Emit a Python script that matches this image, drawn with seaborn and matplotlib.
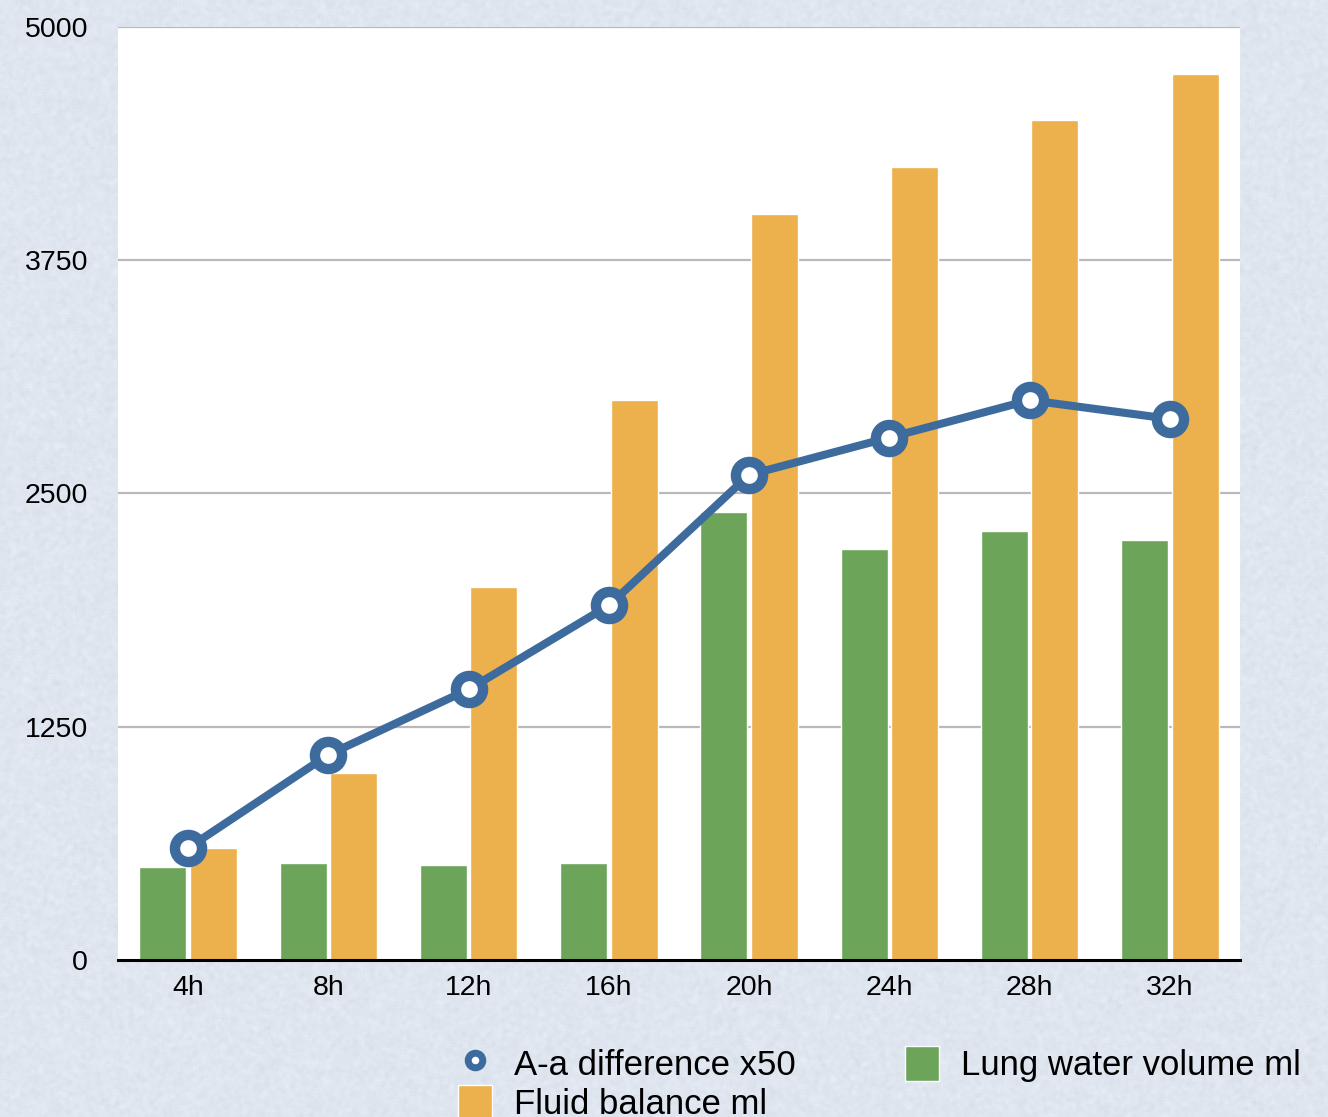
import numpy as np
import pandas as pd
import matplotlib
matplotlib.use("Agg")
import matplotlib.pyplot as plt
from matplotlib.lines import Line2D
from matplotlib.patches import Patch
import seaborn as sns

hours = ["4h", "8h", "12h", "16h", "20h", "24h", "28h", "32h"]
lung_water = [500, 520, 510, 520, 2400, 2200, 2300, 2250]
fluid_balance = [600, 1000, 2000, 3000, 4000, 4250, 4500, 4750]
aa_difference_x50 = [600, 1100, 1450, 1900, 2600, 2800, 3000, 2900]
y_ticks = [0, 1250, 2500, 3750, 5000]

GREEN = "#6ca559"
ORANGE = "#ecb04c"
BLUE = "#3d6b9d"
PAPER = "#dfe6f0"

sns.set_theme(style="white")
plt.rcParams["font.family"] = ["Liberation Sans", "DejaVu Sans"]
plt.rcParams["text.color"] = "black"

bars = pd.DataFrame({
    "time": hours * 2,
    "value": lung_water + fluid_balance,
    "series": ["Lung water volume ml"] * len(hours) + ["Fluid balance ml"] * len(hours),
})

fig = plt.figure(figsize=(13.28, 11.17), dpi=100, facecolor=PAPER)

# soft paper texture behind everything
rng = np.random.default_rng(7)
h, w = 1117, 1328
noise = rng.normal(0, 1, (h, w))
k = np.ones(5) / 5
noise = np.apply_along_axis(lambda r: np.convolve(r, k, mode="same"), 1, noise)
noise = np.apply_along_axis(lambda c: np.convolve(c, k, mode="same"), 0, noise)
base = np.array(matplotlib.colors.to_rgb(PAPER))
tex = np.clip(base[None, None, :] + noise[..., None] * 0.04, 0, 1)
fig.figimage(tex, xo=0, yo=0, zorder=-10)

ax = fig.add_axes([0.0889, 0.1406, 0.8448, 0.8352])
ax.set_facecolor("white")

sns.barplot(data=bars, x="time", y="value", hue="series", order=hours,
            hue_order=["Lung water volume ml", "Fluid balance ml"],
            palette=[GREEN, ORANGE], width=0.72, gap=0.07,
            saturation=1, ax=ax, legend=False, zorder=3)

sns.lineplot(x=np.arange(len(hours)), y=aa_difference_x50, ax=ax,
             color=BLUE, linewidth=5.8, marker="o", markersize=19.5,
             markerfacecolor="white", markeredgecolor=BLUE, markeredgewidth=7.5,
             zorder=5)

ax.set_xlim(-0.5, len(hours) - 0.5)
ax.set_ylim(0, 5000)
ax.set_yticks(y_ticks)
ax.set_yticklabels([str(t) for t in y_ticks])
ax.set_xlabel("")
ax.set_ylabel("")
for t in y_ticks[1:]:
    ax.axhline(t, color="#b9b9b9", linewidth=1.6, zorder=1)

for side in ["top", "right", "left"]:
    ax.spines[side].set_visible(False)
ax.spines["bottom"].set_color("black")
ax.spines["bottom"].set_linewidth(2.2)
ax.spines["bottom"].set_zorder(6)
ax.tick_params(axis="both", length=0, labelsize=20.5, colors="black")
ax.tick_params(axis="x", pad=10.5)
ax.tick_params(axis="y", pad=21.5)

handles = [
    Line2D([], [], color=BLUE, linewidth=0, marker="o", markersize=10.5,
           markerfacecolor="white", markeredgecolor=BLUE, markeredgewidth=5),
    Patch(facecolor=ORANGE),
    Patch(facecolor=GREEN),
]
labels = ["A-a difference x50", "Fluid balance ml", "Lung water volume ml"]
fig.legend(handles, labels, ncol=2, loc="upper left",
           bbox_to_anchor=(0.3317, 0.0794), frameon=False, fontsize=25,
           handlelength=0.97, handleheight=1.2, handletextpad=0.65,
           columnspacing=3.15, labelspacing=0.08, borderpad=0,
           labelcolor="black")

fig.savefig("out.png", dpi=100, facecolor=PAPER)
